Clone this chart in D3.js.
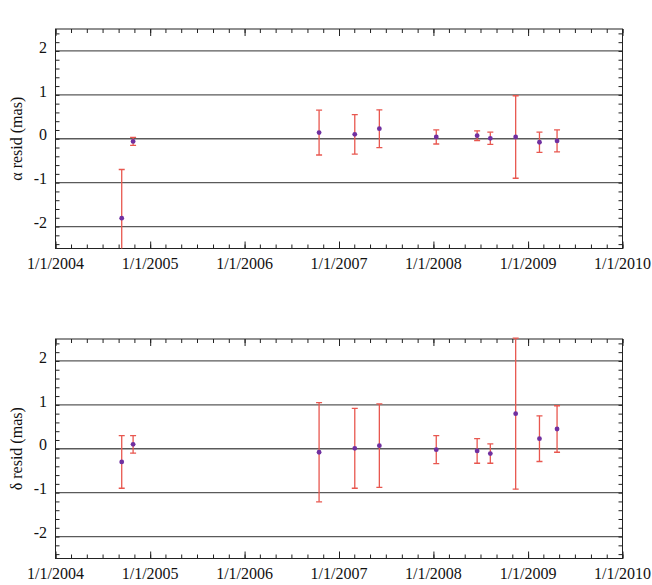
<!DOCTYPE html>
<html>
<head>
<meta charset="utf-8">
<script src="https://cdn.jsdelivr.net/npm/d3@7"></script>
<style>
  body { margin: 0; background: #fff; }
</style>
</head>
<body>
<svg id="chart" width="652" height="585" font-family="'Liberation Serif', 'Times New Roman', Times, 'DejaVu Serif', serif"></svg>
<script>
// observation epochs
var obsDates = ['2004-09-13', '2004-10-27', '2006-10-16', '2007-03-03', '2007-06-06',
  '2008-01-12', '2008-06-18', '2008-08-08', '2008-11-14', '2009-02-14', '2009-04-23'];
// RA residuals (mas) and their errors
var raResid = [-1.81, -0.06, 0.14, 0.10, 0.23, 0.04, 0.07, 0.01, 0.04, -0.08, -0.05];
var raErr = [1.11, 0.09, 0.51, 0.45, 0.43, 0.16, 0.11, 0.14, 0.94, 0.23, 0.25];
// Dec residuals (mas) and their errors
var decResid = [-0.30, 0.10, -0.08, 0.01, 0.07, -0.02, -0.05, -0.11, 0.80, 0.23, 0.45];
var decErr = [0.60, 0.20, 1.13, 0.91, 0.95, 0.32, 0.28, 0.22, 1.72, 0.52, 0.53];
var yTicks = [-2, -1, 0, 1, 2];
var yLabels = ['\u03b1 resid (mas)', '\u03b4 resid (mas)'];

var parseDate = d3.timeParse('%Y-%m-%d');
var fmtDate = d3.timeFormat('%-m/%-d/%Y');
var svg = d3.select('#chart');

var x = d3.scaleTime()
  .domain([new Date(2004, 0, 1), new Date(2010, 0, 1)])
  .range([55.5, 622.5]);

function drawPanel(top, vals, errs, label, idx) {
  var h = 219.5;
  var y = d3.scaleLinear().domain([-2.5, 2.5]).range([top + h, top]);
  var g = svg.append('g');

  var clipId = 'clip' + idx;
  g.append('clipPath').attr('id', clipId)
    .append('rect').attr('x', x.range()[0]).attr('y', top - 3)
    .attr('width', x.range()[1] - x.range()[0]).attr('height', h + 3);

  // grid lines
  g.selectAll('.grid').data(yTicks).enter().append('line')
    .attr('x1', x.range()[0]).attr('x2', x.range()[1])
    .attr('y1', function(d){ return y(d); })
    .attr('y2', function(d){ return y(d); })
    .attr('stroke', '#5a5a5a').attr('stroke-width', 1.3);

  // inward ticks on all four sides
  var xMinor = x.ticks(d3.timeMonth.every(2));
  var xMajor = x.ticks(d3.timeYear.every(1));
  var yMinor = d3.range(-24, 25, 2).map(function(d){ return d / 10; });
  var axes = [
    [d3.axisBottom(x).tickValues(xMinor).tickSize(-4).tickFormat(''), 'translate(0,' + (top + h) + ')'],
    [d3.axisBottom(x).tickValues(xMajor).tickSize(-7).tickFormat(''), 'translate(0,' + (top + h) + ')'],
    [d3.axisTop(x).tickValues(xMinor).tickSize(-4).tickFormat(''), 'translate(0,' + top + ')'],
    [d3.axisTop(x).tickValues(xMajor).tickSize(-7).tickFormat(''), 'translate(0,' + top + ')'],
    [d3.axisLeft(y).tickValues(yMinor).tickSize(-4).tickFormat(''), 'translate(' + x.range()[0] + ',0)'],
    [d3.axisRight(y).tickValues(yMinor).tickSize(-4).tickFormat(''), 'translate(' + x.range()[1] + ',0)']
  ];
  axes.forEach(function(a){
    var ax = g.append('g').attr('transform', a[1]).call(a[0]);
    ax.select('.domain').remove();
    ax.selectAll('line').attr('stroke', '#222');
  });

  // frame
  g.append('rect').attr('x', x.range()[0]).attr('y', top)
    .attr('width', x.range()[1] - x.range()[0]).attr('height', h)
    .attr('fill', 'none').attr('stroke', '#222').attr('stroke-width', 1);

  // tick labels
  g.selectAll('.ylab').data(yTicks).enter().append('text')
    .attr('x', 47).attr('y', function(d){ return y(d) - 2; })
    .attr('text-anchor', 'end').attr('dominant-baseline', 'middle')
    .attr('font-size', 16).attr('fill', '#111')
    .text(function(d){ return d < 0 ? '-' + Math.abs(d) : d; });
  g.selectAll('.xlab').data(xMajor).enter().append('text')
    .attr('x', function(d){ return x(d); }).attr('y', top + h + 20)
    .attr('text-anchor', 'middle').attr('font-size', 16).attr('fill', '#111')
    .text(function(d){ return fmtDate(d); });

  g.append('text')
    .attr('transform', 'translate(22,' + (top + h / 2) + ') rotate(-90)')
    .attr('text-anchor', 'middle').attr('font-size', 16).attr('fill', '#111')
    .text(label);

  // error bars
  var pts = obsDates.map(function(d, i){ return { t: parseDate(d), v: vals[i], e: errs[i] }; });
  var eb = g.append('g').attr('clip-path', 'url(#' + clipId + ')')
    .attr('stroke', '#e8574f').attr('stroke-width', 1.3);
  eb.selectAll('.bar').data(pts).enter().append('line')
    .attr('x1', function(d){ return x(d.t); }).attr('x2', function(d){ return x(d.t); })
    .attr('y1', function(d){ return y(d.v + d.e); }).attr('y2', function(d){ return y(d.v - d.e); });
  [1, -1].forEach(function(s){
    eb.selectAll('.cap' + s).data(pts).enter().append('line')
      .attr('x1', function(d){ return x(d.t) - 3; }).attr('x2', function(d){ return x(d.t) + 3; })
      .attr('y1', function(d){ return y(d.v + s * d.e); }).attr('y2', function(d){ return y(d.v + s * d.e); });
  });

  // points
  g.selectAll('.pt').data(pts).enter().append('circle')
    .attr('cx', function(d){ return x(d.t); }).attr('cy', function(d){ return y(d.v); })
    .attr('r', 2.4).attr('fill', '#7030a0');
}

drawPanel(29, raResid, raErr, yLabels[0], 0);
drawPanel(339, decResid, decErr, yLabels[1], 1);
</script>
</body>
</html>
